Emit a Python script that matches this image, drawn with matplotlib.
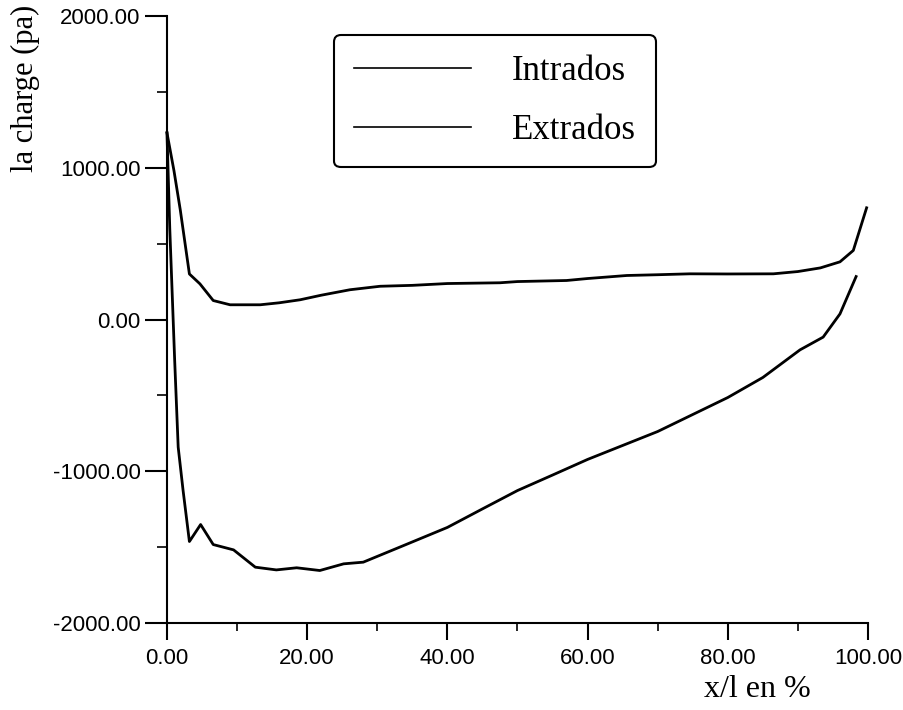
import numpy as np
import matplotlib
matplotlib.use("Agg")
import matplotlib.pyplot as plt
from matplotlib.lines import Line2D
from matplotlib.ticker import MultipleLocator, FormatStrFormatter

# données
x_intrados = [0, 1.0, 1.9, 3.2, 4.7, 6.6, 9.0, 13.3, 16.0, 19.0, 22.0, 26.1,
              30.4, 35.0, 40.0, 47.5, 50.0, 57.0, 60.0, 65.6, 70.0, 74.6,
              80.0, 86.5, 90.0, 93.2, 96.0, 97.9, 99.8]
y_intrados = [1230, 980, 722, 300, 235, 125, 97, 97, 110, 130, 160, 196,
              219, 225, 237, 242, 250, 257, 270, 290, 295, 301,
              300, 301, 316, 340, 380, 455, 736]

x_extrados = [0, 0.4, 1.1, 1.6, 2.3, 3.2, 4.8, 6.6, 9.5, 12.6, 15.6, 18.5,
              21.8, 25.2, 28.0, 33.2, 40, 45, 50, 55, 60, 65, 70, 75, 80,
              85, 90.3, 93.6, 96.0, 98.3]
y_extrados = [1230, 600, -270, -841, -1127, -1463, -1351, -1483, -1518,
              -1632, -1650, -1636, -1654, -1610, -1599, -1500, -1370, -1248,
              -1127, -1025, -922, -830, -738, -626, -514, -382, -200, -116,
              37, 283]

labels = ["Intrados", "Extrados"]

serif = "Liberation Serif"
sans = "Liberation Sans"

fig = plt.figure(figsize=(9.04, 7.10), dpi=100)
ax = fig.add_axes([0.1847, 0.1225, 0.7755, 0.855])

ax.plot(x_intrados, y_intrados, color="black", lw=2.0, clip_on=False)
ax.plot(x_extrados, y_extrados, color="black", lw=2.0, clip_on=False)

ax.set_xlim(0, 100)
ax.set_ylim(-2000, 2000)

# axes: seulement gauche et bas
ax.spines["top"].set_visible(False)
ax.spines["right"].set_visible(False)
ax.spines["left"].set_linewidth(1.5)
ax.spines["bottom"].set_linewidth(1.5)

ax.xaxis.set_major_locator(MultipleLocator(20))
ax.xaxis.set_minor_locator(MultipleLocator(10))
ax.yaxis.set_major_locator(MultipleLocator(1000))
ax.yaxis.set_minor_locator(MultipleLocator(500))
ax.xaxis.set_major_formatter(FormatStrFormatter("%.2f"))
ax.yaxis.set_major_formatter(FormatStrFormatter("%.2f"))

ax.tick_params(axis="y", which="major", direction="out", length=16, width=1.5, pad=3)
ax.tick_params(axis="y", which="minor", direction="out", length=7, width=1.2)
ax.tick_params(axis="x", which="major", direction="out", length=12, width=1.5, pad=6)
ax.tick_params(axis="x", which="minor", direction="out", length=6, width=1.2)

for lab in ax.get_xticklabels() + ax.get_yticklabels():
    lab.set_fontfamily(sans)
    lab.set_fontsize(16)

ax.set_ylabel("la charge (pa)", fontfamily=serif, fontsize=22)
ax.yaxis.set_label_coords(-0.181, 0.88)
ax.set_xlabel("x/l en %", fontfamily=serif, fontsize=23)
ax.xaxis.set_label_coords(0.842, -0.085)

# légende
handles = [Line2D([0], [0], color="black", lw=1.2),
           Line2D([0], [0], color="black", lw=1.2)]
leg = ax.legend(handles, labels, loc="upper left",
                bbox_to_anchor=(0.238, 0.969), borderaxespad=0,
                prop={"family": serif, "size": 25},
                handlelength=3.37, handletextpad=1.18, labelspacing=0.76,
                borderpad=0.58, fancybox=True, framealpha=1)
leg.get_frame().set_edgecolor("black")
leg.get_frame().set_linewidth(1.5)

fig.savefig("out.png", dpi=100)
